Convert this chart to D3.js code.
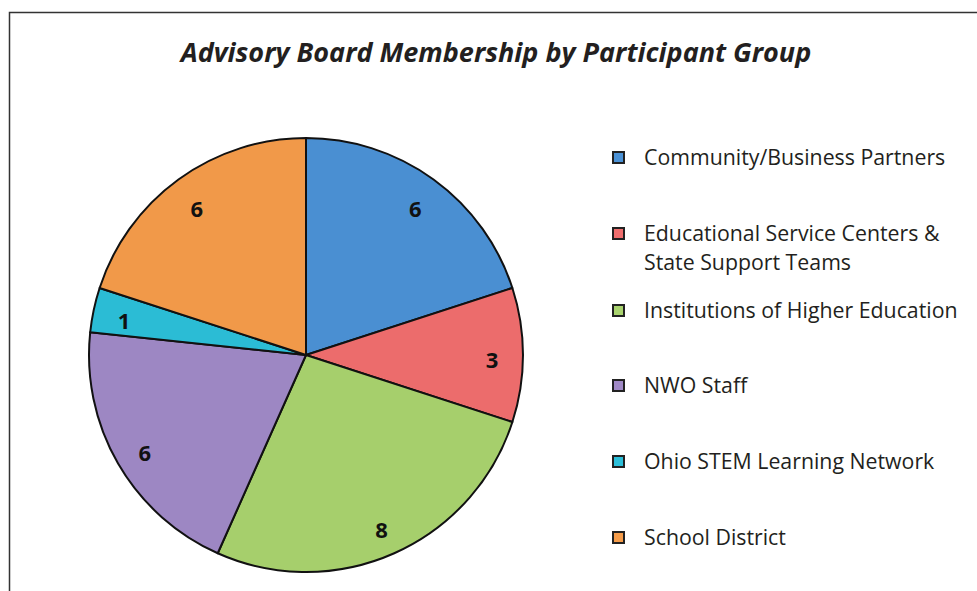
<!DOCTYPE html>
<html><head><meta charset="utf-8">
<script src="https://cdn.jsdelivr.net/npm/d3@7"></script>
<style>html,body{margin:0;padding:0;background:#fff;}</style>
</head><body>
<svg id="chart" width="977" height="591"></svg>
<script>
const categories = ["Community/Business Partners","Educational Service Centers & State Support Teams","Institutions of Higher Education","NWO Staff","Ohio STEM Learning Network","School District"];
const legendLines = [["Community/Business Partners"],["Educational Service Centers &","State Support Teams"],["Institutions of Higher Education"],["NWO Staff"],["Ohio STEM Learning Network"],["School District"]];
const values = [6,3,8,6,1,6];
const colors = ["#4b92d6","#f06e6e","#a9d36e","#a089c6","#2cbfd9","#f59c4a"];
const title = "Advisory Board Membership by Participant Group";

const svg = d3.select("#chart");
const W = 977, H = 591;
const font = "'Open Sans', 'Noto Sans', sans-serif";

// frame
svg.append("path").attr("d", `M9.5,${H+5} L9.5,12.5 L${W+5},12.5`).attr("fill","none").attr("stroke","#333").attr("stroke-width",1.5);

svg.append("text").attr("x",496).attr("y",62).attr("text-anchor","middle")
  .attr("font-family",font).attr("font-weight",700).attr("font-style","italic")
  .attr("font-size",27).attr("fill","#231f20").text(title);

const cx = 306, cy = 355, R = 217;
const defs = svg.append("defs");
colors.forEach((c,i)=>{
  const g = defs.append("radialGradient").attr("id","g"+i).attr("gradientUnits","userSpaceOnUse")
    .attr("cx",cx).attr("cy",cy).attr("r",R);
  g.append("stop").attr("offset","0%").attr("stop-color",d3.color(c).brighter(0.2));
  g.append("stop").attr("offset","100%").attr("stop-color",d3.color(c).darker(0.05));
});

const pie = d3.pie().sort(null).value(d=>d);
const arcs = pie(values);
const arc = d3.arc().innerRadius(0).outerRadius(R);
const labelArc = d3.arc().innerRadius(186).outerRadius(186);
const g = svg.append("g").attr("transform",`translate(${cx},${cy})`);
g.selectAll("path").data(arcs).join("path")
  .attr("d",arc).attr("fill",(d,i)=>`url(#g${i})`)
  .attr("stroke","#111").attr("stroke-width",2).attr("stroke-linejoin","round");
g.selectAll("text").data(arcs).join("text")
  .attr("transform",d=>{const [x,y]=labelArc.centroid(d); return `translate(${x},${y+5})`;})
  .attr("text-anchor","middle").attr("dy","0.36em")
  .attr("font-family",font).attr("font-weight",700).attr("font-size",22).attr("fill","#111")
  .text(d=>d.data);

// legend
const ly = [158,234,311,386,462,538];
const lg = svg.append("g");
legendLines.forEach((lines,i)=>{
  lg.append("rect").attr("x",613).attr("y",ly[i]-6).attr("width",11).attr("height",11)
    .attr("fill",colors[i]).attr("stroke","#222").attr("stroke-width",2);
  const t = lg.append("text").attr("x",644).attr("y",ly[i]+7)
    .attr("font-family",font).attr("font-size",21.3).attr("fill","#231f20");
  lines.forEach((l,j)=>t.append("tspan").attr("x",644).attr("dy", j?29:0).text(l));
});
</script>
</body></html>
